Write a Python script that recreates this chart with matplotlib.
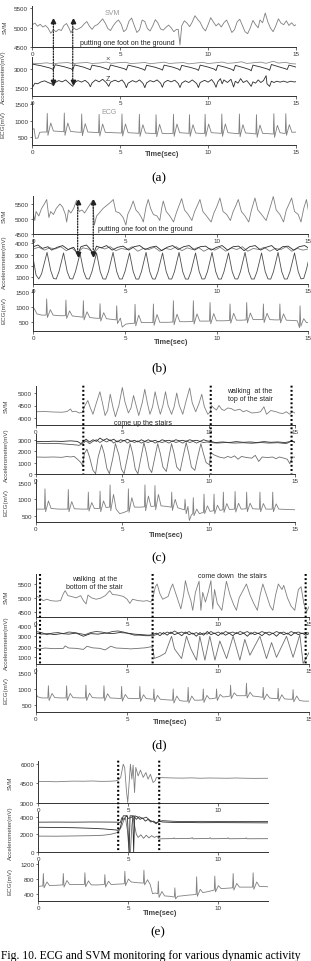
import matplotlib
matplotlib.use("Agg")
import matplotlib.pyplot as plt
from matplotlib.patches import ConnectionPatch

plt.rcParams['font.family'] = ['Liberation Sans', 'DejaVu Sans']

# ---------------- data (time in s, value in mV) ----------------
svm_a = [(0.0,5080),(0.15,5120),(0.3,5040),(0.45,5090),(0.6,5020),(0.75,5060),(0.9,4990),(1.05,4860),(1.2,4950),
         (1.35,4900),(1.5,4960),(1.65,4930),(1.8,5060),(1.95,5110),(2.1,4980),(2.2,4870),(2.35,5000),(2.5,4950),
         (2.65,4980),(2.8,5020),(2.95,5100),(3.1,5160),(3.25,5040),(3.4,4960),(3.55,5050),(3.7,5080),(3.85,5150),
         (4.0,5230),(4.15,5120),(4.3,4980),(4.45,4930),(4.6,5050),(4.75,5140),(4.9,5200),(5.05,5100),(5.2,4900),
         (5.35,4960),(5.5,5170),(5.65,5250),(5.8,5060),(5.95,4880),(6.1,4950),(6.25,5200),(6.4,5160),(6.55,4980),
         (6.7,4920),(6.85,5050),(7.0,5210),(7.15,5120),(7.3,4970),(7.45,4940),(7.6,5010),(7.75,5070),(7.9,5000),
         (8.05,4900),(8.2,4960),(8.3,4960),(8.4,4560),(8.5,5050),(8.65,5180),(8.8,5120),(8.95,5030),(9.1,5150),
         (9.25,5310),(9.4,5220),(9.55,5140),(9.7,5000),(9.85,4920),(10.0,5080),(10.15,5260),(10.3,5150),(10.45,5050),
         (10.6,5110),(10.75,5020),(10.9,5130),(11.05,5200),(11.2,5050),(11.35,4880),(11.5,4950),(11.65,5150),
         (11.8,5220),(11.95,5060),(12.1,4900),(12.25,4850),(12.4,5000),(12.55,5190),(12.7,5080),(12.85,5000),
         (12.95,5200),(13.1,5130),(13.25,5380),(13.4,5150),(13.55,4990),(13.7,4900),(13.85,5050),(14.0,5230),
         (14.15,5120),(14.3,5080),(14.45,5180),(14.6,5060),(14.75,5130),(14.9,5050),(15.0,5080)]
acc_a_x = [(0,3450),(0.4,3420),(0.8,3480),(1.2,3400),(1.5,3460),(2.0,3500),(2.3,3420),(2.7,3470),(3.1,3510),
           (3.4,3430),(3.8,3460),(4.2,3540),(4.5,3440),(4.9,3490),(5.3,3520),(5.6,3420),(6.0,3460),(6.4,3510),
           (6.7,3410),(7.1,3470),(7.5,3530),(7.8,3430),(8.2,3470),(8.6,3500),(8.9,3400),(9.3,3460),(9.7,3520),
           (10.0,3420),(10.4,3480),(10.8,3540),(11.1,3440),(11.5,3480),(11.9,3560),(12.2,3430),(12.6,3490),
           (13.0,3530),(13.3,3440),(13.7,3600),(14.0,3460),(14.4,3520),(14.7,3420),(15,3390)]
acc_a_y = [(0,3380),(0.5,3250),(1.0,3080),(1.2,2950),(1.3,3330),(1.8,3180),(2.2,3020),(2.3,2920),(2.4,3320),
           (2.9,3150),(3.2,3000),(3.3,2940),(3.4,3300),(3.9,3160),(4.25,3000),(4.35,2930),(4.45,3310),(4.9,3150),
           (5.25,3010),(5.35,2920),(5.45,3300),(6.0,3120),(6.3,2980),(6.4,2900),(6.5,3290),(7.0,3130),(7.3,2990),
           (7.4,2910),(7.5,3300),(8.0,3140),(8.3,3000),(8.4,2900),(8.5,3280),(9.0,3120),(9.35,2980),(9.45,2890),
           (9.55,3300),(10.0,3150),(10.35,2990),(10.45,2880),(10.55,3290),(11.0,3130),(11.35,2970),(11.45,2870),
           (11.55,3280),(12.0,3110),(12.35,2960),(12.45,2860),(12.55,3300),(13.0,3150),(13.4,2990),(13.5,2900),
           (13.6,3350),(14.0,3180),(14.4,3020),(14.5,2960),(14.6,3300),(15,3150)]
acc_a_z = [(0,1550),(0.15,1900),(0.3,1850),(0.5,2000),(0.7,2080),(0.9,1950),(1.1,1850),(1.2,1700),(1.3,1950),
           (1.5,2100),(1.7,2000),(1.9,2150),(2.1,1900),(2.3,1650),(2.4,1950),(2.6,2100),(2.8,1980),(3.0,2120),
           (3.2,1900),(3.3,1620),(3.4,1920),(3.6,2150),(3.8,2000),(4.0,2200),(4.2,1950),(4.35,1650),(4.45,1980),
           (4.7,2130),(4.9,2000),(5.1,2150),(5.25,1900),(5.35,1550),(5.45,1900),(5.7,2100),(5.9,1980),(6.1,2150),
           (6.3,1880),(6.4,1550),(6.5,1920),(6.7,2100),(6.9,2000),(7.1,2150),(7.3,1900),(7.4,1580),(7.5,1950),
           (7.7,2120),(7.9,2000),(8.1,2130),(8.3,1880),(8.4,1560),(8.5,1900),(8.7,2080),(8.9,1950),(9.1,2150),
           (9.35,1870),(9.45,1560),(9.55,1950),(9.8,2120),(10.0,1980),(10.2,2180),(10.35,1900),(10.45,1580),
           (10.55,2000),(10.7,2250),(10.8,1850),(10.9,2150),(11.1,1950),(11.3,2200),(11.45,1600),(11.55,2050),
           (11.7,1900),(11.85,2250),(12.0,1950),(12.2,2100),(12.35,1850),(12.45,1650),(12.55,2000),(12.7,1900),
           (12.85,2150),(13.0,1950),(13.15,2100),(13.3,2480),(13.35,1850),(13.5,1650),(13.6,2050),(13.75,1950),
           (13.9,2050),(14.1,1980),(14.3,2060),(14.5,1960),(14.7,2050),(14.9,1990),(15,2020)]
ecg_a = [(0.00,740),(0.10,760),(0.18,470),(0.32,480),(0.42,650),(0.60,660),
         (0.82,660),(0.85,1220),(0.89,560),(1.05,930),(1.20,690),(1.50,680),
         (1.79,670),(1.82,1230),(1.86,560),(2.02,930),(2.17,680),(2.50,660),
         (2.78,650),(2.81,1200),(2.85,550),(3.01,910),(3.16,660),(3.50,650),
         (3.77,640),(3.80,1190),(3.84,540),(4.00,900),(4.15,650),(4.60,640),
         (5.07,630),(5.10,1200),(5.14,540),(5.30,900),(5.45,640),(5.80,630),
         (6.06,620),(6.09,1190),(6.13,530),(6.29,880),(6.44,630),(6.75,620),
         (7.01,610),(7.04,1180),(7.08,520),(7.24,890),(7.39,620),(7.70,610),
         (8.00,620),(8.03,1190),(8.07,530),(8.23,900),(8.38,640),(8.65,630),
         (8.91,620),(8.94,1180),(8.98,530),(9.14,880),(9.29,630),(9.55,620),
         (9.80,620),(9.83,1190),(9.87,530),(10.03,900),(10.18,640),(10.50,630),
         (10.75,620),(10.78,1200),(10.82,530),(10.98,900),(11.13,640),(11.50,620),
         (11.75,610),(11.78,1200),(11.82,520),(11.98,880),(12.13,630),(12.45,620),
         (12.72,600),(12.75,1180),(12.79,500),(12.95,870),(13.10,620),(13.45,610),
         (13.71,600),(13.74,1210),(13.78,500),(13.94,860),(14.09,640),(14.30,620),
         (14.39,620),(14.42,1210),(14.46,560),(14.62,880),(14.77,650),(15.00,660)]

svm_b = [(0.0,5200),(0.08,4950),(0.15,5250),(0.3,5100),(0.45,5350),(0.6,5500),(0.73,5650),(0.85,5050),(0.95,5250),
         (1.1,5150),(1.25,5350),(1.45,5500),(1.6,5400),(1.75,5150),(1.82,4900),(1.92,5300),(2.05,5200),(2.2,5350),
         (2.36,5620),(2.5,5250),(2.65,5300),(2.8,5200),(3.0,5400),(3.24,5620),(3.33,4800),(3.45,5100),(3.6,5200),
         (3.8,5350),(4.0,5450),(4.2,5550),(4.36,5650),(4.5,5250),(4.7,5200),(4.9,5050),(5.05,4800),(5.15,5150),
         (5.3,5350),(5.45,5600),(5.6,5300),(5.75,5200),(5.9,5050),(6.0,4900),(6.15,5400),(6.27,5650),(6.4,5350),
         (6.55,5150),(6.75,5100),(6.9,4950),(7.0,5350),(7.09,5600),(7.25,5250),(7.45,5100),(7.65,4900),(7.8,5200),
         (7.95,5450),(8.09,5680),(8.25,5300),(8.45,5150),(8.65,4950),(8.8,5250),(8.95,5450),(9.09,5650),(9.25,5250),
         (9.45,5100),(9.7,4900),(9.85,5200),(10.0,5400),(10.18,5700),(10.35,5250),(10.55,5150),(10.75,4950),
         (10.9,5250),(11.05,5450),(11.18,5650),(11.35,5250),(11.55,5100),(11.75,4900),(11.9,5300),(12.09,5700),
         (12.25,5300),(12.45,5150),(12.7,4950),(12.85,5250),(12.95,5450),(13.09,5750),(13.25,5300),(13.45,5150),
         (13.65,4900),(13.8,5300),(13.95,5500),(14.09,5700),(14.25,5250),(14.45,5150),(14.6,4900),(14.75,5350),
         (14.9,5650),(15.0,5300)]
acc_b_x = [(0,3500),(0.3,3650),(0.6,3400),(0.9,3600),(1.2,3500),(1.5,3700),(1.8,3350),(2.1,3600),(2.4,3150),
           (2.7,3600),(3.0,3500),(3.3,3150),(3.6,3650),(3.9,3500),(4.2,3700),(4.5,3350),(4.8,3550),(5.1,3450),
           (5.4,3700),(5.7,3300),(6.0,3550),(6.3,3450),(6.6,3650),(6.9,3300),(7.2,3550),(7.5,3450),(7.8,3700),
           (8.1,3350),(8.4,3600),(8.7,3450),(9.0,3650),(9.3,3300),(9.6,3550),(9.9,3400),(10.2,3650),(10.5,3300),
           (10.8,3600),(11.1,3450),(11.4,3700),(11.7,3300),(12.0,3550),(12.3,3450),(12.6,3650),(12.9,3300),
           (13.2,3550),(13.5,3450),(13.8,3700),(14.1,3300),(14.4,3550),(14.7,3400),(15,3500)]
acc_b_y = [(0,3700),(0.25,3850),(0.5,3550),(0.8,3700),(1.0,3400),(1.3,3650),(1.6,3800),(1.9,3450),(2.2,3650),
           (2.42,3050),(2.6,3700),(2.9,3850),(3.1,3500),(3.27,3050),(3.45,3750),(3.7,3600),(4.0,3800),(4.3,3400),
           (4.6,3650),(4.9,3750),(5.2,3400),(5.5,3700),(5.8,3800),(6.1,3450),(6.4,3650),(6.7,3750),(7.0,3350),
           (7.3,3650),(7.6,3800),(7.9,3450),(8.2,3700),(8.5,3800),(8.8,3400),(9.1,3700),(9.4,3750),(9.7,3400),
           (10.0,3650),(10.3,3800),(10.6,3400),(10.9,3700),(11.2,3750),(11.5,3350),(11.8,3700),(12.1,3800),
           (12.4,3400),(12.7,3650),(13.0,3800),(13.3,3350),(13.6,3700),(13.9,3750),(14.2,3400),(14.5,3700),
           (14.8,3800),(15,3600)]
acc_b_z = [(0,2600),(0.15,1200),(0.3,850),(0.45,1300),(0.75,3200),(0.95,1600),(1.1,900),(1.25,850),(1.4,1500),
           (1.65,3150),(1.85,1500),(2.0,880),(2.15,850),(2.3,1500),(2.55,3100),(2.75,1500),(2.9,870),(3.05,850),
           (3.2,1500),(3.45,3150),(3.65,1500),(3.8,860),(3.95,840),(4.1,1500),(4.35,3200),(4.55,1500),(4.7,850),
           (4.85,850),(5.0,1500),(5.25,3150),(5.45,1500),(5.6,850),(5.75,840),(5.9,1500),(6.15,3200),(6.35,1500),
           (6.5,860),(6.65,840),(6.8,1500),(7.05,3150),(7.25,1500),(7.4,850),(7.55,850),(7.7,1500),(7.95,3200),
           (8.15,1500),(8.3,850),(8.45,840),(8.6,1500),(8.85,3150),(9.05,1500),(9.2,850),(9.35,860),(9.5,1500),
           (9.75,3200),(9.95,1500),(10.1,850),(10.25,840),(10.4,1500),(10.65,3150),(10.85,1500),(11.0,860),
           (11.15,850),(11.3,1500),(11.55,3200),(11.75,1500),(11.9,850),(12.05,850),(12.2,1500),(12.45,3150),
           (12.65,1500),(12.8,860),(12.95,840),(13.1,1500),(13.35,3200),(13.55,1500),(13.7,850),(13.85,850),
           (14.0,1500),(14.25,3150),(14.45,1500),(14.6,860),(14.75,900),(14.9,1700),(15.0,2400)]
ecg_b = [(0.00,980),(0.08,900),(0.20,760),(0.45,720),
         (0.70,720),(0.73,1260),(0.77,640),(0.93,900),(1.08,720),(1.40,700),
         (1.75,700),(1.78,1220),(1.82,610),(1.98,860),(2.13,690),(2.45,670),
         (2.70,650),(2.73,1200),(2.77,560),(2.93,830),(3.08,640),(3.35,620),
         (3.61,610),(3.64,1100),(3.68,520),(3.84,800),(3.99,600),(4.25,580),
         (4.52,560),(4.55,1030),(4.59,440),(4.75,620),(4.85,320),(5.05,420),(5.30,440),
         (5.52,450),(5.55,1080),(5.59,360),(5.75,720),(5.90,470),(6.25,470),
         (6.52,470),(6.55,1090),(6.59,380),(6.75,740),(6.90,480),(7.35,480),
         (7.61,490),(7.64,1200),(7.68,400),(7.84,750),(7.99,500),(8.40,500),
         (8.70,510),(8.73,1200),(8.77,420),(8.93,760),(9.08,520),(9.35,520),
         (9.61,520),(9.64,1140),(9.68,430),(9.84,770),(9.99,530),(10.40,530),
         (10.70,540),(10.73,1090),(10.77,450),(10.93,780),(11.08,550),(11.35,550),
         (11.61,560),(11.64,1140),(11.68,460),(11.84,790),(11.99,570),(12.25,570),
         (12.52,570),(12.55,1090),(12.59,470),(12.75,780),(12.90,570),(13.20,560),
         (13.42,560),(13.45,1090),(13.49,460),(13.65,760),(13.80,550),(14.20,540),
         (14.40,530),(14.52,300),(14.55,1030),(14.59,350),(14.75,600),(14.90,470),(15.00,470)]

svm_c = [(0,4250),(0.5,4260),(1.0,4240),(1.5,4230),(1.8,4260),(2.0,4360),(2.1,4250),(2.3,4270),(2.5,4200),
         (2.7,4230),(2.8,4450),(3.0,4700),(3.15,4400),(3.3,4150),(3.45,4500),(3.7,5050),(3.85,4600),(4.0,4100),
         (4.15,4300),(4.3,4950),(4.45,4450),(4.6,4050),(4.8,4500),(5.0,5220),(5.15,4650),(5.35,4200),(5.5,4400),
         (5.65,4900),(5.8,4500),(5.95,4100),(6.15,4600),(6.3,5150),(6.45,4600),(6.6,4150),(6.75,4450),(6.9,5050),
         (7.05,4550),(7.2,4150),(7.35,4500),(7.5,5050),(7.65,4500),(7.85,4150),(8.0,4450),(8.15,5000),(8.3,4500),
         (8.5,4150),(8.7,4700),(8.9,5200),(9.05,4600),(9.25,4250),(9.45,4600),(9.6,4950),(9.75,4450),(9.95,4150),
         (10.1,4250),(10.15,4500),(10.3,4400),(10.45,4320),(10.6,4500),(10.75,4350),(10.9,4300),(11.1,4400),
         (11.3,4380),(11.5,4300),(11.8,4350),(12.0,4250),(12.2,4300),(12.5,4200),(12.8,4220),(13.0,4250),
         (13.2,4450),(13.35,4150),(13.6,4300),(13.9,4250),(14.1,4200),(14.3,4180),(14.5,4250),(14.7,4150),
         (14.85,4250),(15,4200)]
acc_c_x = [(0,2900),(0.5,2880),(1.0,2920),(1.5,2900),(2.0,2950),(2.4,2900),(2.6,2700),(2.75,2900),(2.9,3100),
           (3.1,2850),(3.3,3050),(3.5,2900),(3.7,3200),(3.9,3000),(4.1,3150),(4.3,2950),(4.5,3100),(4.7,2850),
           (4.9,3050),(5.1,2950),(5.3,3100),(5.5,2900),(5.7,3000),(5.9,2850),(6.1,3050),(6.3,2900),(6.5,3050),
           (6.7,2900),(6.9,3000),(7.1,2850),(7.3,3050),(7.5,2950),(7.7,3000),(7.9,2900),(8.1,3050),(8.3,2950),
           (8.5,3000),(8.7,2900),(8.9,3050),(9.1,2950),(9.3,3000),(9.5,2900),(9.7,3050),(9.9,2950),(10.1,2900),
           (10.4,2800),(10.8,2850),(11.2,2800),(11.6,2880),(12.0,2820),(12.4,2850),(12.8,2800),(13.2,2880),
           (13.6,2820),(14.0,2850),(14.4,2800),(14.8,2900),(15,2850)]
acc_c_y = [(0,2750),(0.6,2700),(1.2,2720),(1.8,2650),(2.2,2600),(2.5,2550),(2.7,2700),(2.9,2950),(3.1,2700),
           (3.3,2900),(3.5,3050),(3.7,2800),(3.9,3000),(4.1,2850),(4.3,3050),(4.5,2750),(4.7,2950),(4.9,2800),
           (5.1,3000),(5.3,2750),(5.5,2950),(5.7,2800),(5.9,2950),(6.1,2750),(6.3,2900),(6.5,2800),(6.7,2950),
           (6.9,2750),(7.1,2900),(7.3,2800),(7.5,2900),(7.7,2750),(7.9,2950),(8.1,2800),(8.3,2900),(8.5,2750),
           (8.7,2950),(8.9,2800),(9.1,2900),(9.3,2750),(9.5,2900),(9.7,2800),(9.9,2850),(10.1,2800),(10.5,2750),
           (11.0,2800),(11.5,2750),(12.0,2780),(12.5,2730),(13.0,2800),(13.5,2750),(14.0,2780),(14.5,2700),
           (14.8,2950),(15,2800)]
acc_c_z = [(0,1500),(0.5,1480),(1.0,1500),(1.5,1470),(1.8,1550),(2.0,1500),(2.2,1560),(2.4,1300),(2.6,1000),
           (2.7,700),(2.8,1800),(2.95,2200),(3.1,1500),(3.3,300),(3.45,0),(3.6,1500),(3.8,2600),(3.95,1800),
           (4.1,500),(4.25,0),(4.45,1400),(4.6,2700),(4.8,1700),(4.95,400),(5.1,0),(5.3,1500),(5.45,2700),
           (5.6,1800),(5.75,400),(5.9,0),(6.1,1600),(6.25,2800),(6.4,1800),(6.55,500),(6.7,100),(6.9,1600),
           (7.05,2700),(7.2,1800),(7.35,600),(7.55,200),(7.7,1500),(7.85,2700),(8.0,1800),(8.15,600),(8.35,250),
           (8.5,1400),(8.7,2800),(8.85,1800),(9.0,600),(9.2,300),(9.35,1400),(9.55,2700),(9.7,1800),(9.85,1000),
           (10.05,800),(10.12,1900),(10.3,1700),(10.6,1500),(10.9,1400),(11.1,1550),(11.3,1450),(11.5,1600),
           (11.7,1300),(11.9,1550),(12.2,1450),(12.5,1400),(12.7,1650),(12.9,1100),(13.1,1500),(13.4,1450),
           (13.7,1500),(13.9,1350),(14.1,1500),(14.35,1400),(14.55,1300),(14.7,900),(14.85,1500),(15,1480)]
ecg_c = [(0.00,700),(0.25,700),
         (0.49,700),(0.52,1320),(0.56,620),(0.72,950),(0.87,720),(1.30,700),
         (1.84,700),(1.87,1300),(1.91,620),(2.07,930),(2.22,710),(2.70,700),
         (3.00,700),(3.03,1220),(3.07,640),(3.23,900),(3.38,720),
         (3.68,720),(3.71,1250),(3.75,620),(3.91,950),(4.06,750),
         (4.26,760),(4.29,1440),(4.33,650),(4.49,1150),(4.64,700),(4.85,560),(5.10,600),
         (5.32,650),(5.35,1320),(5.39,600),(5.55,1050),(5.70,760),(6.05,760),
         (6.28,770),(6.31,1440),(6.35,650),(6.51,1100),(6.66,780),
         (6.86,790),(6.89,1420),(6.93,680),(7.09,1150),(7.24,800),(7.60,780),
         (7.83,760),(7.86,1220),(7.90,660),(8.06,1000),(8.21,740),(8.45,700),
         (8.60,680),(8.63,1000),(8.70,560),(8.80,780),(8.88,350),(9.00,520),
         (9.08,560),(9.11,1050),(9.15,500),(9.31,700),(9.46,560),
         (9.70,600),(9.73,1160),(9.77,560),(9.93,800),(10.08,630),
         (10.28,650),(10.31,1160),(10.35,560),(10.51,820),(10.66,660),
         (10.82,680),(10.85,1220),(10.89,600),(11.05,870),(11.20,690),
         (11.50,700),(11.53,1240),(11.57,610),(11.73,880),(11.88,700),
         (12.17,710),(12.20,1220),(12.24,620),(12.40,880),(12.55,710),
         (12.94,700),(12.97,1220),(13.01,620),(13.17,870),(13.32,700),
         (13.68,700),(13.71,1220),(13.75,620),(13.91,860),(14.06,700),(14.50,690),(15.00,680)]

svm_d = [(0,5080),(0.2,5000),(0.4,4900),(0.6,4950),(0.8,4900),(1.1,4880),(1.35,4900),(1.5,5150),(1.6,5260),
         (1.75,5080),(1.95,5050),(2.2,5000),(2.45,5080),(2.6,4900),(2.75,4780),(2.85,5100),(3.05,5000),(3.3,4950),
         (3.55,4990),(3.8,5080),(4.05,5260),(4.2,5120),(4.5,5100),(4.8,5050),(5.0,4950),(5.15,4800),(5.3,4950),
         (5.6,4900),(5.9,4880),(6.1,4900),(6.3,4850),(6.4,4950),(6.55,5400),(6.65,5500),(6.8,5150),(6.95,4950),
         (7.1,5000),(7.25,5050),(7.4,5350),(7.5,5500),(7.65,5200),(7.8,4900),(7.95,4600),(8.1,5100),(8.2,5620),
         (8.35,5200),(8.5,4900),(8.6,4550),(8.75,5200),(8.95,5600),(9.05,4550),(9.15,5200),(9.3,4850),(9.45,5200),
         (9.6,5620),(9.7,4600),(9.8,5300),(9.95,4800),(10.2,4550),(10.45,5600),(10.65,5100),(10.85,4750),
         (11.0,4550),(11.15,5000),(11.55,5500),(11.75,5100),(11.95,4800),(12.15,4550),(12.3,5100),(12.45,5500),
         (12.65,5100),(12.85,4700),(13.0,4550),(13.15,5100),(13.3,5500),(13.5,5300),(13.6,5450),(13.8,5000),
         (14.0,4700),(14.2,4550),(14.4,5300),(14.55,5400),(14.7,4800),(14.85,4500),(15,4700)]
acc_d_x = [(0,3300),(0.3,3200),(0.7,3250),(1.0,3150),(1.4,3250),(1.8,3200),(2.2,3300),(2.6,3000),(3.0,3250),
           (3.4,3200),(3.8,3300),(4.2,3250),(4.6,3350),(5.0,3300),(5.4,3200),(5.8,3150),(6.2,3100),(6.4,3150),
           (6.6,3300),(6.8,3050),(7.0,3350),(7.2,3100),(7.4,3400),(7.6,3150),(7.8,3300),(8.0,3050),(8.2,3400),
           (8.4,3150),(8.6,3300),(8.8,3000),(9.0,3350),(9.2,3100),(9.4,3450),(9.6,3150),(9.8,3300),(10.0,3050),
           (10.2,3350),(10.4,3100),(10.6,3300),(10.8,3050),(11.0,3350),(11.2,3150),(11.4,3300),(11.6,3000),
           (11.8,3350),(12.0,3150),(12.2,3300),(12.4,3050),(12.6,3350),(12.8,3100),(13.0,3300),(13.2,3000),
           (13.4,3350),(13.6,3150),(13.8,3300),(14.0,3050),(14.2,3350),(14.4,3150),(14.6,3300),(14.8,3100),
           (15,3250)]
acc_d_y = [(0,3450),(0.3,3350),(0.6,3150),(0.9,3300),(1.2,3350),(1.5,3250),(1.8,3400),(2.1,3350),(2.4,3250),
           (2.7,3150),(3.0,3350),(3.3,3450),(3.6,3400),(3.9,3300),(4.2,3450),(4.5,3500),(4.8,3400),(5.1,3250),
           (5.4,3100),(5.7,3100),(6.0,3050),(6.4,3050),(6.6,3150),(6.8,3350),(7.0,3200),(7.2,3400),(7.4,3250),
           (7.6,3500),(7.8,3300),(8.0,3400),(8.2,3250),(8.4,3450),(8.6,3200),(8.8,3350),(9.0,3150),(9.2,3300),
           (9.4,3200),(9.6,3450),(9.8,3250),(10.0,3400),(10.2,3200),(10.4,3450),(10.6,3300),(10.8,3400),
           (11.0,3250),(11.2,3450),(11.4,3300),(11.6,3450),(11.8,3200),(12.0,3400),(12.2,3250),(12.4,3450),
           (12.6,3300),(12.8,3400),(13.0,3250),(13.2,3450),(13.4,3300),(13.6,3400),(13.8,3200),(14.0,3450),
           (14.2,3300),(14.4,3400),(14.6,3250),(14.8,3350),(15,3300)]
acc_d_z = [(0,1850),(0.2,1800),(0.5,1880),(1.0,1820),(1.5,1850),(1.6,2080),(1.8,1880),(2.2,1850),(2.6,1750),
           (2.8,2050),(3.1,1900),(3.5,1850),(3.8,1700),(4.1,2050),(4.4,1880),(4.8,1850),(5.2,1800),(5.6,1850),
           (6.0,1900),(6.3,2000),(6.4,1900),(6.5,900),(6.8,1100),(7.1,1400),(7.44,3000),(7.6,1800),(7.99,880),
           (8.26,3000),(8.5,1800),(8.81,730),(8.99,3000),(9.27,730),(9.54,3000),(9.82,730),(10.09,2550),
           (10.46,880),(10.82,3000),(11.19,730),(11.46,2700),(11.74,1200),(12.29,3000),(12.65,880),(12.93,2400),
           (13.2,1000),(13.75,3000),(14.11,1000),(14.48,3150),(14.66,420),(14.85,1000),(15,1500)]
ecg_d = [(0.00,870),(0.08,760),(0.30,720),
         (0.65,720),(0.68,1100),(0.72,640),(0.88,860),(1.03,730),(1.35,720),
         (1.65,720),(1.68,1100),(1.72,640),(1.88,860),(2.03,730),(2.40,720),
         (2.71,720),(2.74,1120),(2.78,640),(2.94,870),(3.09,730),(3.40,720),
         (3.70,720),(3.73,1100),(3.77,630),(3.93,850),(4.08,720),(4.40,710),
         (4.67,700),(4.70,1080),(4.74,620),(4.90,830),(5.05,710),(5.40,700),
         (5.67,700),(5.70,1080),(5.74,610),(5.90,820),(6.05,700),(6.25,690),
         (6.44,680),(6.47,1000),(6.51,600),(6.67,800),(6.82,680),(7.20,660),
         (7.50,650),(7.53,1000),(7.57,560),(7.73,780),(7.88,640),(8.10,620),
         (8.32,620),(8.35,1050),(8.39,560),(8.55,780),(8.70,650),(8.95,650),
         (9.15,660),(9.18,1000),(9.22,580),(9.38,800),(9.53,690),(9.70,700),
         (9.88,720),(9.91,1000),(9.95,640),(10.11,830),(10.26,750),(10.45,760),
         (10.65,780),(10.68,1120),(10.72,700),(10.88,880),(11.03,790),(11.30,790),
         (11.52,790),(11.55,1180),(11.59,720),(11.75,900),(11.90,780),(12.20,760),
         (12.44,740),(12.47,1050),(12.51,660),(12.67,840),(12.82,720),(13.05,700),
         (13.26,700),(13.29,1020),(13.33,620),(13.49,820),(13.64,690),(13.90,680),
         (14.08,680),(14.11,980),(14.15,600),(14.31,780),(14.46,640),(14.70,620),(15.00,620)]

svm_e = [(0,4620),(0.5,4630),(1.0,4610),(1.5,4640),(2.0,4660),(2.5,4650),(3.0,4670),(3.5,4640),(4.0,4650),
         (4.3,4680),(4.45,4750),(4.58,4940),(4.72,5960),(4.8,5700),(4.9,3910),(4.97,3010),(5.05,4550),(5.12,5960),
         (5.2,4810),(5.27,5890),(5.35,3780),(5.42,5710),(5.55,5060),(5.68,5510),(5.83,4940),(5.98,5320),(6.1,4810),
         (6.23,5190),(6.38,4550),(6.5,4700),(6.56,4940),(6.72,4900),(6.8,4930),(7.5,4900),(8.0,4890),(8.5,4910),
         (9.0,4880),(9.5,4900),(10.0,4890),(10.5,4880),(11.0,4900),(11.5,4880),(12.0,4870),(12.75,4880)]
acc_e_x = [(0,3380),(1,3390),(2,3380),(3,3400),(4,3390),(4.44,3380),(4.55,3300),(4.65,3900),(4.75,3700),(4.9,4100),
           (5.0,3800),(5.15,3900),(5.3,4100),(5.45,3700),(5.6,4000),(5.8,3800),(6.0,3950),(6.2,3600),(6.4,3400),
           (6.55,3200),(6.7,3450),(6.9,3550),(7.5,3480),(8,3450),(9,3470),(10,3460),(11,3450),(12,3460),(12.75,3450)]
acc_e_y = [(0,2800),(1,2780),(2,2750),(3,2680),(3.6,2620),(4.0,2550),(4.3,2500),(4.44,2450),(4.55,2700),(4.65,3500),
           (4.72,4100),(4.85,4100),(4.95,4100),(5.0,2000),(5.05,0),(5.1,4100),(5.25,4100),(5.3,0),(5.36,4100),
           (5.5,4000),(5.65,3700),(5.8,3850),(5.95,3500),(6.1,3700),(6.25,3400),(6.4,3500),(6.55,3300),(6.72,3500),
           (6.9,3400),(7.5,3350),(8,3350),(9,3320),(10,3330),(11,3320),(12,3310),(12.75,3300)]
acc_e_z = [(0,1800),(1,1790),(2,1820),(3,1850),(3.6,1900),(4.0,2000),(4.3,2150),(4.44,2250),(4.55,2600),(4.65,3000),
           (4.75,3600),(4.85,3800),(4.95,2500),(5.05,0),(5.12,0),(5.2,3000),(5.27,4000),(5.35,3000),(5.45,2000),
           (5.55,1650),(5.7,1950),(5.85,1550),(6.0,1900),(6.15,1600),(6.3,1850),(6.45,1650),(6.6,1800),(6.72,1450),
           (6.85,1500),(7.5,1520),(7.55,1600),(7.6,1510),(8.5,1550),(8.55,1630),(8.6,1500),(9.5,1540),(9.55,1620),
           (9.6,1500),(10.5,1530),(10.55,1610),(10.6,1500),(11.5,1520),(11.55,1600),(11.6,1500),(12.75,1510)]
ecg_e = [(0.00,600),(0.20,610),
         (0.25,610),(0.28,950),(0.32,560),(0.48,720),(0.63,620),(1.00,630),
         (1.36,640),(1.39,950),(1.43,580),(1.59,760),(1.74,650),(2.20,650),
         (2.56,650),(2.59,970),(2.63,590),(2.79,750),(2.94,640),(3.30,640),
         (3.67,650),(3.70,920),(3.74,580),(3.90,740),(4.05,650),(4.40,660),
         (4.78,670),(4.81,1010),(4.85,620),(5.01,800),(5.16,720),(5.50,700),
         (5.84,690),(5.87,1040),(5.91,640),(6.07,780),(6.22,650),(6.35,400),(6.50,420),
         (6.64,400),(6.67,740),(6.71,300),(6.87,460),(7.02,340),(7.30,330),
         (7.56,310),(7.59,560),(7.63,260),(7.75,330),(7.95,340),(8.30,360),
         (8.77,380),(8.80,860),(8.84,330),(9.00,520),(9.15,430),(9.45,460),
         (9.78,500),(9.81,880),(9.85,450),(10.01,620),(10.16,540),(10.50,550),
         (10.80,560),(10.83,950),(10.87,500),(11.03,680),(11.18,580),(11.60,580),
         (11.91,580),(11.94,970),(11.98,520),(12.14,720),(12.29,600),(12.75,590)]

# event markers (s)
arrows_a = [1.2, 2.3]
arrows_b = [2.42, 3.27]
events_c = [2.74, 10.12, 14.8]
events_d = [0.22, 6.4, 14.8]
events_e = [4.44, 6.72]

# ---------------- layout ----------------
W, H = 311, 962
fig = plt.figure(figsize=(W / 100, H / 100), dpi=100)
fig.patch.set_facecolor('white')

AX_COL = '#333333'


def px_axes(left, right, top, bottom):
    return fig.add_axes([left / W, 1 - bottom / H, (right - left) / W, (bottom - top) / H])


def style(ax, xlim, ylim, yticks, xticks):
    ax.set_xlim(*xlim)
    ax.set_ylim(*ylim)
    ax.patch.set_alpha(0)
    for s in ('top', 'right'):
        ax.spines[s].set_visible(False)
    for s in ('left', 'bottom'):
        ax.spines[s].set_linewidth(0.7)
        ax.spines[s].set_color(AX_COL)
    ax.set_yticks(yticks)
    ax.set_xticks(xticks)
    ax.tick_params(axis='both', labelsize=4.5, colors=AX_COL, length=1.8, width=0.5, pad=1.2)


def trace(ax, pairs, color, lw=0.6):
    t, v = zip(*pairs)
    ax.plot(t, v, color=color, lw=lw)


def vtext(x, y, s):
    fig.text(x / W, 1 - y / H, s, rotation=90, ha='center', va='center', fontsize=4.5, color='#444444')


def event_line(ax_top, ax_bot, t):
    con = ConnectionPatch(xyA=(t, ax_top.get_ylim()[1]), coordsA=ax_top.transData,
                          xyB=(t, ax_bot.get_ylim()[0]), coordsB=ax_bot.transData,
                          color='black', lw=1.5, linestyle=(0, (0.9, 1.1)), capstyle='butt')
    fig.add_artist(con)


def step_arrow(ax_top, ax_bot, t, v_top, v_bot):
    con = ConnectionPatch(xyA=(t, v_top), coordsA=ax_top.transData,
                          xyB=(t, v_bot), coordsB=ax_bot.transData,
                          color='#222222', lw=0.9, linestyle=(0, (1, 1.2)))
    fig.add_artist(con)
    ax_top.plot([t], [v_top], marker='^', ms=3.2, color='#222222', clip_on=False)
    ax_bot.plot([t], [v_bot], marker='v', ms=3.2, color='#222222', clip_on=False)


def bottom_texts(time_xy, label_xy, label):
    fig.text(time_xy[0] / W, 1 - time_xy[1] / H, 'Time(sec)', ha='center', va='center',
             fontsize=5.3, fontweight='bold', color='#444444')
    fig.text(label_xy[0] / W, 1 - label_xy[1] / H, label, ha='center', va='center',
             fontsize=9.5, family='Liberation Serif', color='black')


SVM_C, ECG_C, DARK, MID = '#7f7f7f', '#808080', '#2b2b2b', '#6e6e6e'
X15 = [0, 5, 10, 15]

# ---- (a) ----
L, R = 32.3, 296
a1 = px_axes(L, R, 6.7, 48.3); style(a1, (0, 15), (4500, 5567), [4500, 5000, 5500], X15)
a2 = px_axes(L, R, 58.3, 96.7); style(a2, (0, 15), (925, 3909), [1500, 3000], X15)
a3 = px_axes(L, R, 103, 145.7); style(a3, (0, 15), (280, 1560), [500, 1000, 1500], X15)
trace(a1, svm_a, SVM_C)
trace(a2, acc_a_x, '#8c8c8c')
trace(a2, acc_a_y, DARK)
trace(a2, acc_a_z, DARK)
trace(a3, ecg_a, ECG_C)
a1.text(4.1, 5350, 'SVM', fontsize=5, color='#999999')
a1.text(2.7, 4615, 'putting one foot on the ground', fontsize=5, color='#222222', va='center')
a2.text(4.15, 3800, '×', fontsize=5.5, color='#555555', va='center')
a2.text(4.2, 2250, 'Z', fontsize=5, color='#333333', va='center')
a3.text(3.95, 1270, 'ECG', fontsize=5, color='#999999', va='center')
for t in arrows_a:
    step_arrow(a1, a2, t, 5183, 2013)
vtext(5, 27.5, 'SVM'); vtext(3.5, 77.5, 'Accelerometer(mV)'); vtext(3.5, 124.3, 'ECG(mV)')
bottom_texts((162.5, 154.3), (159, 178.3), '(a)')

# ---- (b) ----
L, R = 33.3, 308.3
b1 = px_axes(L, R, 196.7, 235); style(b1, (0, 15), (4500, 5777), [4500, 5000, 5500], X15)
b2 = px_axes(L, R, 240, 285); style(b2, (0, 15), (409, 4380), [1000, 2000, 3000, 4000], X15)
b3 = px_axes(L, R, 290, 331.7); style(b3, (0, 15), (200, 1590), [500, 1000, 1500], X15)
trace(b1, svm_b, SVM_C)
trace(b2, acc_b_z, '#4d4d4d')
trace(b2, acc_b_x, '#7a7a7a')
trace(b2, acc_b_y, DARK)
trace(b3, ecg_b, ECG_C)
b1.text(3.55, 4667, 'putting one foot on the ground', fontsize=5, color='#222222', va='center')
for t in arrows_b:
    step_arrow(b1, b2, t, 5577, 3060)
vtext(4, 216, 'SVM'); vtext(4, 262.5, 'Accelerometer(mV)'); vtext(4, 311, 'ECG(mV)')
bottom_texts((171, 342.7), (159, 368.3), '(b)')

# ---- (c) ----
L, R = 36, 295
c1 = px_axes(L, R, 386.7, 426); style(c1, (0, 15), (3720, 5292), [4000, 4500, 5000], X15)
c2 = px_axes(L, R, 435, 474.7); style(c2, (0, 15), (0, 3566), [0, 1000, 2000, 3000], X15)
c3 = px_axes(L, R, 480, 523.3); style(c3, (0, 15), (296, 1622), [500, 1000, 1500], X15)
trace(c1, svm_c, SVM_C)
trace(c2, acc_c_z, MID)
trace(c2, acc_c_y, '#555555')
trace(c2, acc_c_x, DARK)
trace(c3, ecg_c, ECG_C)
c1.text(6.2, 3820, 'come up the stairs', fontsize=5, color='#222222', ha='center', va='center')
c1.text(12.4, 4930, 'walking  at the\ntop of the stair', fontsize=5, color='#222222', ha='center',
        va='center', linespacing=1.1)
for t in events_c:
    event_line(c1, c2, t)
vtext(6, 406, 'SVM'); vtext(6, 455, 'Accelerometer(mV)'); vtext(6, 502, 'ECG(mV)')
bottom_texts((165.8, 535.7), (159, 558.3), '(c)')

# ---- (d) ----
L, R = 36, 309.3
d1 = px_axes(L, R, 575, 618.3); style(d1, (0, 15), (4298, 5861), [4500, 5000, 5500], X15)
d2 = px_axes(L, R, 621.7, 665); style(d2, (0, 15), (365, 4475), [1000, 2000, 3000, 4000], X15)
d3 = px_axes(L, R, 669, 712.7); style(d3, (0, 15), (290, 1656), [500, 1000, 1500], X15)
trace(d1, svm_d, SVM_C)
trace(d2, acc_d_z, MID)
trace(d2, acc_d_y, '#444444')
trace(d2, acc_d_x, DARK)
trace(d3, ecg_d, ECG_C)
d1.text(3.2, 5560, 'walking  at the\nbottom of the stair', fontsize=5, color='#222222', ha='center',
        va='center', linespacing=1.1)
d1.text(10.8, 5800, 'come down  the stairs', fontsize=5, color='#222222', ha='center', va='center')
for t in events_d:
    event_line(d1, d2, t)
vtext(6, 597, 'SVM'); vtext(6, 643, 'Accelerometer(mV)'); vtext(6, 691, 'ECG(mV)')
bottom_texts((170, 722.7), (159, 745), '(d)')

# ---- (e) ----
L, R = 38.3, 267.7
e1 = px_axes(L, R, 761.7, 803.7); style(e1, (0, 12.75), (3000, 6230), [3000, 4500, 6000], [0, 5, 10])
e2 = px_axes(L, R, 813.3, 853); style(e2, (0, 12.75), (0, 4498), [0, 2000, 4000], [0, 5, 10])
e3 = px_axes(L, R, 861.7, 902.3); style(e3, (0, 12.75), (194, 1298), [400, 800, 1200], [0, 5, 10])
trace(e1, svm_e, SVM_C)
trace(e2, acc_e_z, MID)
trace(e2, acc_e_y, DARK)
trace(e2, acc_e_x, '#3a3a3a')
trace(e3, ecg_e, ECG_C)
for t in events_e:
    event_line(e1, e2, t)
vtext(10, 783, 'SVM'); vtext(10, 833, 'Accelerometer(mV)'); vtext(10, 882, 'ECG(mV)')
bottom_texts((160, 914), (158, 932.7), '(e)')

# caption along the lower edge
fig.text(1 / W, 1 - 959 / H, 'Fig. 10. ECG and SVM monitoring for various dynamic activity',
         ha='left', va='baseline', fontsize=8.4, family='Liberation Serif', color='black')

fig.savefig('out.png', dpi=100, facecolor='white')
